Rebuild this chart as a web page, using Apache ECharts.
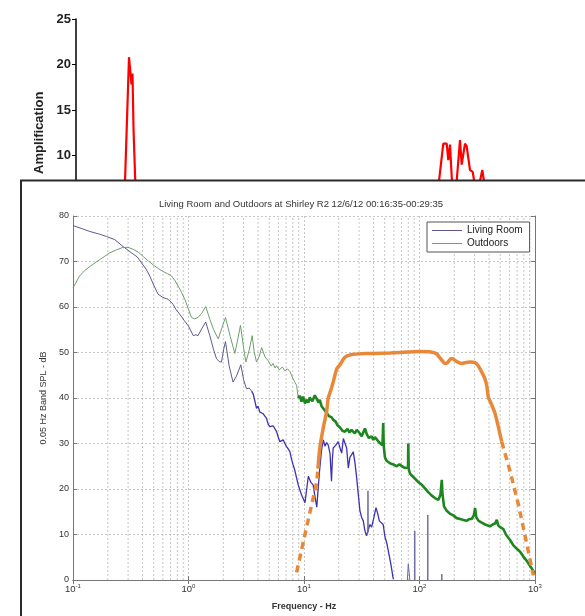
<!DOCTYPE html>
<html>
<head>
<meta charset="utf-8">
<script src="https://cdn.jsdelivr.net/npm/echarts@6/dist/echarts.min.js"></script>
<style>html,body{margin:0;padding:0;background:#fff}#main{width:585px;height:616px}</style>
</head>
<body>
<div id="main"></div>
<script>
// 上方放大倍数图（大部分被下方的图遮住）
var myChart = echarts.init(document.getElementById('main'));

var ampX = [0, 47.8, 53, 54.5, 55.5, 56.5, 57.5, 60.5, 358.6, 367.3, 370.7, 372.3, 374, 375.7, 377.5, 379.5, 380.7, 384, 385.7, 387.3, 389, 390.7, 394, 396.7, 398, 400, 403, 404, 406.3, 408, 410, 509];
var ampY = [3, 3, 20.8, 20.7, 17.8, 19.0, 13, 3, 3, 11.3, 11.3, 9.5, 11.2, 7.7, 4.5, 4.5, 7.2, 11.7, 9, 9.2, 11.3, 11, 8.4, 8.2, 7.3, 5, 5, 7.2, 8.4, 7.2, 4, 3];

// 下方频谱图
var livingA = [[0.1,77.9],[0.12,77.2],[0.14,76.6],[0.17,76.0],[0.195,75.5],[0.23,74.8],[0.271,73.3],[0.321,71.9],[0.36,71.0],[0.392,69.7],[0.43,68.3],[0.462,66.8],[0.5,64.8],[0.546,62.8],[0.6,62.1],[0.665,61.7],[0.736,60.6],[0.78,59.4],[0.841,58.4],[0.92,57.0],[1.0,55.8],[1.1,53.7],[1.16,53.9],[1.21,53.7],[1.3,55.2],[1.41,56.7],[1.53,53.7],[1.65,50.6],[1.75,48.6],[1.85,48.0],[1.93,47.9],[2.02,50.8],[2.09,52.4],[2.25,47.0],[2.43,43.5],[2.6,44.8],[2.84,47.3],[3.0,44.0],[3.18,42.0],[3.35,42.2],[3.52,41.5]];
var livingB = [[3.52,41.5],[3.63,40.9],[3.75,39.4],[3.88,37.7],[4.0,38.2],[4.15,36.9],[4.4,36.6],[4.74,35.5],[4.9,34.2],[5.07,33.7],[5.4,33.9],[5.79,32.6],[5.95,31.6],[6.18,30.4],[6.6,30.8],[7.06,29.3],[7.3,28.8],[7.55,28.2],[7.8,26.5],[8.05,25.3],[8.35,24.0],[8.63,22.4],[8.91,20.9],[9.5,18.8],[10.2,17.0],[10.5,17.3],[10.9,22.8],[11.1,23.1],[11.5,21.4],[12.0,20.9],[12.5,18.0],[12.9,16.0],[13.3,20.5],[13.7,24.6],[14.2,28.6],[14.7,30.8],[15.2,29.4],[15.7,30.2],[16.2,29.7],[16.8,27.8],[17.3,21.7],[17.6,26.5],[17.9,29.0],[18.8,29.6],[19.8,30.4],[20.5,29.0],[21.2,27.9],[21.9,31.1],[22.6,30.8],[23.4,29.0],[24.2,24.6],[25.0,27.0],[25.8,27.5],[26.7,28.2],[27.6,25.8],[28.6,22.4],[29.6,18.5],[30.5,15.2],[31.6,13.7],[32.6,13.0],[33.7,10.8],[34.8,9.7],[35.5,10.5],[37.2,12.2],[38.5,11.6],[40,13.4],[42.0,15.9],[43.5,14.6],[44.9,13.0],[46.5,13.4],[48.5,12.2],[50.2,9.5],[52,8.2],[53.7,6.4],[56.5,3.5],[59.3,0.2]];
var livingSpikes = [[35.6,10],[35.8,19.6],[36,10.5],[36,'-'],[78.5,0],[80,3.5],[81.5,1.5],[82.5,0],[82.5,'-'],[90.8,0],[91,10.8],[91.2,0],[91.2,'-'],[117.8,0],[118,14.3],[118.2,0],[118.2,'-'],[155.8,0],[156,1.3],[156.2,0]];

var outdoorA = [[0.1,64.2],[0.114,66.8],[0.126,68.0],[0.14,68.9],[0.17,70.4],[0.208,71.9],[0.24,72.6],[0.271,73.1],[0.3,73.1],[0.331,72.7],[0.37,72.0],[0.405,71.1],[0.45,70.1],[0.493,69.3],[0.55,68.4],[0.603,67.8],[0.66,67.3],[0.713,66.8],[0.76,65.9],[0.813,64.6],[0.87,63.2],[0.929,61.7],[1.0,59.5],[1.06,57.7],[1.13,57.4],[1.21,57.7],[1.3,58.6],[1.41,60.1],[1.53,57.3],[1.65,55.0],[1.81,53.0],[1.95,55.5],[2.09,57.7],[2.3,53.5],[2.52,49.8],[2.65,52.5],[2.82,56.0],[3.0,51.0],[3.14,47.9],[3.35,50.5],[3.56,53.7],[3.7,50.2],[3.88,47.9],[4.1,49.2],[4.3,51.1],[4.6,49.0],[4.9,48.2],[5.2,47.0],[5.41,47.6],[5.6,46.6],[5.79,47.1],[6.1,46.2],[6.5,46.8],[6.82,46.0],[7.2,46.4],[7.55,45.8],[7.82,46.0],[8.05,44.2],[8.35,43.4],[8.63,42.8],[8.91,40.0]];
var outdoorB = [[8.91,40.0],[9.2,40.5],[9.5,39.2],[9.8,40.3],[10.2,38.8],[10.5,39.6],[10.9,39.0],[11.2,40.1],[11.8,39.3],[12.4,40.6],[12.9,40.2],[13.4,39.0],[13.7,39.6],[14.2,38.2],[14.7,38.6],[15.2,37.2],[15.7,36.8],[16.5,36.0],[17.3,35.8],[17.9,35.2],[18.8,34.8],[19.5,34.0],[20.5,33.5],[21.5,32.8],[22.6,32.6],[23.8,33.2],[24.8,32.4],[25.8,33.0],[26.7,32.9],[27.5,32.2],[28.6,33.0],[30.5,32.2],[31.6,31.6],[32.6,32.0],[33.7,33.3],[35,32.0],[36.5,31.2],[38.5,31.6],[39.8,30.8],[41.1,31.4],[42.6,31.0],[44.9,30.2],[46.5,29.8],[47.8,29.6],[48.5,34.5],[49,29.5],[50.2,27.0],[51.8,26.2],[53.7,26.4],[56,25.6],[59.3,25.4],[63.4,25.0],[67,25.4],[72.4,24.8],[76,24.6],[79.5,24.8],[80,30.0],[80.6,24.4],[82.8,23.4],[87,22.8],[92,22.2],[97.7,21.5],[104,21.0],[110,20.3],[119,19.3],[127,18.6],[136,18.0],[146,17.6],[152,18.8],[156,22.0],[158,19.0],[163,16.2],[172,15.2],[183,14.6],[196,14.2],[210,13.6],[225,13.4],[240,13.2],[255,13.0],[270,13.4],[283,13.4],[295,14.2],[303,15.8],[310,13.8],[325,13.0],[346,12.6],[370,12.2],[390,12.0],[408,11.8],[430,12.2],[450,12.4],[467,13.2],[480,12.0],[500,11.6],[532,11.2],[560,10.0],[608,8.8],[650,7.6],[700,6.8],[743,6.2],[790,5.2],[849,4.2],[900,3.2],[968,2.0],[1000,1.4]];

var respLow = [[8.63,1.7],[10.5,11.5],[12.9,21.5],[13.2,24.5]];
var respMid = [[13.2,24.5],[13.7,29.0],[14.7,33.5],[15.7,37.0],[16.2,39.9],[17.3,42.2],[17.9,43.5],[19.2,46.4],[20.5,47.3],[22.0,48.6],[23.4,49.2],[26.7,49.6],[30.5,49.7],[40,49.8],[55.5,49.9],[80,50.1],[101,50.2],[125,50.1],[141,49.7],[146,49.2],[155,48.4],[166,47.6],[175,47.8],[186,48.6],[194,48.6],[210,48.0],[232,47.6],[255,47.8],[274,47.9],[303,47.8],[320,47.2],[346,45.7],[365,44.5],[382,42.8],[394,40.2],[420,38.6],[451,36.6],[480,33.8],[515,30.4]];
var respHigh = [[515,30.4],[608,23.9],[718,16.6],[849,7.9],[968,1.0]];

var xTickExp = ['-1', '0', '1', '2', '3'];
var gridFreq = [0.2,0.3,0.4,0.5,0.6,0.7,0.8,0.9,2,3,4,5,6,7,8,9,20,30,40,50,60,70,80,90,200,300,400,500,600,700,800,900];

var FONT = 'Liberation Sans';
var dotted = {color: '#c6c6c6', type: [2, 2], width: 1};

var ampData = [];
for (var i = 0; i < ampX.length; i++) {
    ampData.push([ampX[i], ampY[i]]);
}
// 次网格线：每条竖线两个端点，中间用 '-' 断开
var minorData = [];
gridFreq.forEach(function (f) {
    minorData.push([f, 0], [f, 80], [f, '-']);
});

option = {
    backgroundColor: '#fff',
    animation: false,
    title: {
        text: 'Living Room and Outdoors at Shirley R2 12/6/12 00:16:35-00:29:35',
        left: 301,
        top: 199,
        textAlign: 'center',
        padding: 0,
        zlevel: 2,
        textStyle: {fontFamily: FONT, fontSize: 9.5, fontWeight: 'normal', color: '#333'}
    },
    legend: {
        data: [{name: 'Living Room', icon: 'rect'}, {name: 'Outdoors', icon: 'rect'}],
        orient: 'vertical',
        left: 427,
        top: 222,
        padding: [3, 7, 3, 5],
        itemGap: 2,
        itemWidth: 30,
        itemHeight: 1,
        borderColor: '#555',
        borderWidth: 1,
        backgroundColor: '#fff',
        zlevel: 2,
        textStyle: {fontFamily: FONT, fontSize: 10, color: '#222', lineHeight: 11}
    },
    graphic: [{
        // 遮盖上图的白色面板
        type: 'rect',
        zlevel: 1,
        shape: {x: 21, y: 180.5, width: 600, height: 460},
        style: {fill: '#fff', stroke: '#2a2a2a', lineWidth: 2}
    }],
    grid: [
        {left: 76, top: 19, right: 0, height: 227.5, zlevel: 0},
        {left: 73, top: 216, width: 462, height: 367, zlevel: 2}
    ],
    xAxis: [{
        type: 'value',
        gridIndex: 0,
        min: 0,
        max: 509,
        show: false
    }, {
        type: 'log',
        logBase: 10,
        gridIndex: 1,
        min: 0.1,
        max: 1000,
        zlevel: 2,
        axisLine: {lineStyle: {color: '#777'}},
        axisTick: {inside: true, length: 4, lineStyle: {color: '#777'}},
        splitLine: {show: true, lineStyle: dotted},
        axisLabel: {
            margin: 3,
            formatter: function (v, idx) {
                return '{b|10}{s|' + xTickExp[idx] + '}';
            },
            rich: {
                b: {fontFamily: FONT, fontSize: 9.5, color: '#333', lineHeight: 13},
                s: {fontFamily: FONT, fontSize: 6, color: '#333', verticalAlign: 'top', lineHeight: 8}
            }
        },
        name: 'Frequency - Hz',
        nameLocation: 'middle',
        nameGap: 22,
        nameTextStyle: {fontFamily: FONT, fontSize: 9, fontWeight: 'bold', color: '#333'}
    }, {
        type: 'log',
        logBase: 10,
        gridIndex: 1,
        position: 'top',
        min: 0.1,
        max: 1000,
        zlevel: 2,
        axisLine: {lineStyle: {color: '#777'}},
        axisTick: {inside: true, length: 4, lineStyle: {color: '#777'}},
        axisLabel: {show: false},
        splitLine: {show: false}
    }],
    yAxis: [{
        type: 'value',
        gridIndex: 0,
        min: 0,
        max: 25,
        interval: 5,
        axisLine: {show: true, lineStyle: {color: '#000', width: 1.5}},
        axisTick: {show: true, length: 4, lineStyle: {color: '#000'}},
        splitLine: {show: false},
        axisLabel: {fontFamily: FONT, fontSize: 13, fontWeight: 'bold', color: '#222', margin: 5},
        name: 'Amplification',
        nameLocation: 'middle',
        nameGap: 28,
        nameTextStyle: {fontFamily: FONT, fontSize: 13, fontWeight: 'bold', color: '#222'}
    }, {
        type: 'value',
        gridIndex: 1,
        min: 0,
        max: 80,
        interval: 10,
        zlevel: 2,
        axisLine: {show: true, lineStyle: {color: '#777'}},
        axisTick: {show: true, inside: true, length: 4, lineStyle: {color: '#777'}},
        splitLine: {show: true, lineStyle: dotted},
        axisLabel: {fontFamily: FONT, fontSize: 9, color: '#333', margin: 4},
        name: '0.05 Hz Band SPL - dB',
        nameLocation: 'middle',
        nameGap: 25,
        nameTextStyle: {fontFamily: FONT, fontSize: 9, color: '#333'}
    }, {
        type: 'value',
        gridIndex: 1,
        position: 'right',
        min: 0,
        max: 80,
        interval: 10,
        zlevel: 2,
        axisLine: {show: true, lineStyle: {color: '#777'}},
        axisTick: {show: true, inside: true, length: 4, lineStyle: {color: '#777'}},
        axisLabel: {show: false},
        splitLine: {show: false}
    }],
    series: [{
        name: 'Amplification',
        type: 'line',
        xAxisIndex: 0,
        yAxisIndex: 0,
        data: ampData,
        symbol: 'none',
        lineStyle: {color: '#ff0000', width: 2.2},
        zlevel: 0
    }, {
        // 次网格线（对数刻度 2..9）
        name: 'grid',
        type: 'line',
        xAxisIndex: 1,
        yAxisIndex: 1,
        data: minorData,
        symbol: 'none',
        connectNulls: false,
        silent: true,
        lineStyle: dotted,
        zlevel: 2,
        z: 1
    }, {
        name: 'Living Room',
        type: 'line',
        xAxisIndex: 1,
        yAxisIndex: 1,
        data: livingA,
        symbol: 'none',
        lineStyle: {color: '#5c5a8c', width: 1},
        itemStyle: {color: '#5c5a8c'},
        zlevel: 2,
        z: 3
    }, {
        name: 'Living Room',
        type: 'line',
        xAxisIndex: 1,
        yAxisIndex: 1,
        data: livingB,
        symbol: 'none',
        lineStyle: {color: '#3e32b0', width: 1.3},
        zlevel: 2,
        z: 3
    }, {
        name: 'Living Room',
        type: 'line',
        xAxisIndex: 1,
        yAxisIndex: 1,
        data: livingSpikes,
        symbol: 'none',
        connectNulls: false,
        lineStyle: {color: '#6a68a0', width: 1},
        zlevel: 2,
        z: 3
    }, {
        name: 'Outdoors',
        type: 'line',
        xAxisIndex: 1,
        yAxisIndex: 1,
        data: outdoorA,
        symbol: 'none',
        lineStyle: {color: '#6f9e6f', width: 1},
        itemStyle: {color: '#6f9e6f'},
        zlevel: 2,
        z: 3
    }, {
        name: 'Outdoors',
        type: 'line',
        xAxisIndex: 1,
        yAxisIndex: 1,
        data: outdoorB,
        symbol: 'none',
        lineStyle: {color: '#1e861e', width: 2.6},
        zlevel: 2,
        z: 3
    }, {
        name: 'Response',
        type: 'line',
        xAxisIndex: 1,
        yAxisIndex: 1,
        data: respLow,
        symbol: 'none',
        lineStyle: {color: '#e8893a', width: 3.5, type: [7, 5]},
        zlevel: 2,
        z: 4
    }, {
        name: 'Response',
        type: 'line',
        xAxisIndex: 1,
        yAxisIndex: 1,
        data: respMid,
        symbol: 'none',
        smooth: 0.2,
        lineStyle: {color: '#e8893a', width: 3.5},
        zlevel: 2,
        z: 4
    }, {
        name: 'Response',
        type: 'line',
        xAxisIndex: 1,
        yAxisIndex: 1,
        data: respHigh,
        symbol: 'none',
        lineStyle: {color: '#e8893a', width: 3.5, type: [7, 5]},
        zlevel: 2,
        z: 4
    }]
};

myChart.setOption(option);
</script>
</body>
</html>
